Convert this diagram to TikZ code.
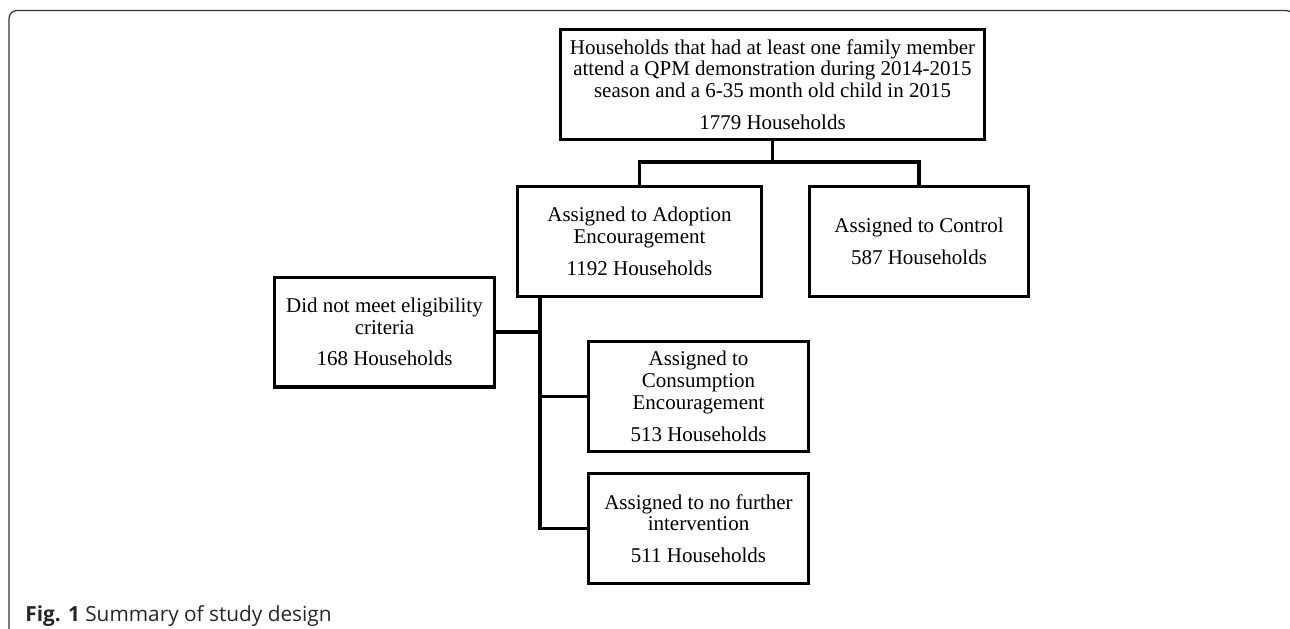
\documentclass[tikz,border=0pt]{standalone}
\usepackage{fontspec}
\setmainfont{Liberation Serif}
\newfontfamily\capfont{Open Sans}
\usepackage{tikz}

\begin{document}
\begin{tikzpicture}[x=0.5pt, y=-0.5pt]

    \tikzset{%
        stage/.style={%
                draw, line width=1.7pt, align=center, inner sep=2pt,
                minimum height=54.8pt,
                font=\fontsize{10.5}{10.9}\selectfont
            },
        link/.style={line width=1.6pt, line cap=rect}
    }

    \useasboundingbox (0, 0) rectangle (1290, 628);
    \draw [line width=0.6pt, rounded corners=4pt, black!80] (9, 10.5) rectangle (1294, 640);

    \node [stage, minimum width=211.8pt] (top) at (772.5, 84.5) {%
        Households that had at least one family member\\
        attend a QPM demonstration during 2014-2015\\
        season and a 6-35 month old child in 2015\\[5pt]
        1779 Households
    };
    \node [stage, minimum width=121.8pt] (adoption) at (639.5, 241.5) {%
        Assigned to Adoption\\
        Encouragement\\[5pt]
        1192 Households
    };
    \node [stage, minimum width=109.3pt] (control) at (919, 241.5) {%
        Assigned to Control\\[5pt]
        587 Households
    };
    \node [stage, minimum width=109.8pt] (inelig) at (384.5, 332) {%
        Did not meet eligibility\\
        criteria\\[5pt]
        168 Households
    };
    \node [stage, minimum width=109.8pt] (consumption) at (698.5, 396.5) {%
        Assigned to\\
        Consumption\\
        Encouragement\\[5pt]
        513 Households
    };
    \node [stage, minimum width=109.8pt] (nofurther) at (698.5, 528.5) {%
        Assigned to no further\\
        intervention\\[5pt]
        511 Households
    };

    \coordinate (fork) at (772.5, 162);
    \coordinate (trunk) at (540, 298);

    \draw [link] (top.south) -- (fork);
    \draw [link] (fork) -| (adoption.north);
    \draw [link] (fork) -| (control.north);
    \draw [link] (trunk) |- (inelig.east);
    \draw [link] (trunk) |- (consumption.west);
    \draw [link] (trunk) |- (nofurther.west);

    \node [anchor=base west, inner sep=0pt, text=black!85,
        font=\capfont\fontsize{10.4}{11}\selectfont] (caption) at (25, 621)
        {\textbf{Fig. 1} Summary of study design};

\end{tikzpicture}
\end{document}
